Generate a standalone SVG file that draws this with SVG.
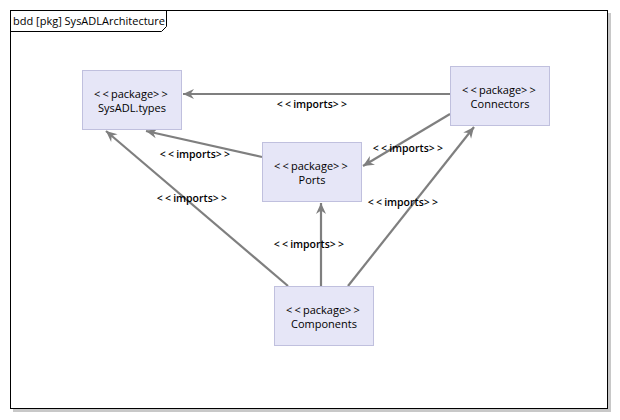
<svg xmlns="http://www.w3.org/2000/svg" width="620" height="420" viewBox="0 0 620 420">
  <style>
    .frame { fill: #ffffff; stroke: #000000; stroke-width: 1; }
    .shadow { fill: #c8c8c8; }
    .title { font-family: "Open Sans", "DejaVu Sans", sans-serif; font-size: 11px; fill: #000000; }
    .node rect { fill: #e6e6f7; stroke: #c0c0de; stroke-width: 1; }
    .node text { font-family: "Open Sans", "DejaVu Sans", sans-serif; font-size: 11px; fill: #000000; text-anchor: middle; }
    .edge { stroke: #7f7f7f; stroke-width: 2.2; fill: none; marker-end: url(#arrow); }
    .lbl { font-family: "Open Sans", "DejaVu Sans", sans-serif; font-size: 10.5px; font-weight: 600; fill: #000000; text-anchor: middle; }
    .br { letter-spacing: 2.2px; }
  </style>
  <defs>
    <marker id="arrow" markerUnits="userSpaceOnUse" markerWidth="14" markerHeight="12" viewBox="-11 -6 12 12" refX="0" refY="0" orient="auto">
      <path d="M0,0 L-11,-5 L-7.5,0 L-11,5 Z" fill="#7f7f7f"/>
    </marker>
  </defs>

  <rect width="620" height="420" fill="#ffffff"/>

  <!-- diagram frame with drop shadow -->
  <g id="frame">
    <rect class="shadow" x="13" y="13" width="598" height="399"/>
    <rect class="frame" x="10.5" y="10.5" width="597" height="398"/>
    <path d="M10.5,31.5 L161.5,31.5 L166.5,26.5 L166.5,10.5" fill="none" stroke="#000000" stroke-width="1"/>
    <text class="title" x="13" y="25">bdd [pkg] SysADLArchitecture</text>
  </g>

  <!-- import dependencies -->
  <g id="connectors">
    <line class="edge" x1="450" y1="94" x2="183" y2="94"/>
    <line class="edge" x1="262" y1="157" x2="146" y2="131"/>
    <line class="edge" x1="450" y1="114" x2="363" y2="166"/>
    <line class="edge" x1="288" y1="286" x2="106" y2="131"/>
    <line class="edge" x1="321" y1="286" x2="321" y2="203"/>
    <line class="edge" x1="348" y1="286" x2="474" y2="127"/>
    <text class="lbl" x="313" y="108"><tspan class="br">&lt;&lt;</tspan>imports<tspan class="br">&gt;&gt;</tspan></text>
    <text class="lbl" x="196" y="158"><tspan class="br">&lt;&lt;</tspan>imports<tspan class="br">&gt;&gt;</tspan></text>
    <text class="lbl" x="409" y="152"><tspan class="br">&lt;&lt;</tspan>imports<tspan class="br">&gt;&gt;</tspan></text>
    <text class="lbl" x="193" y="202"><tspan class="br">&lt;&lt;</tspan>imports<tspan class="br">&gt;&gt;</tspan></text>
    <text class="lbl" x="310" y="248"><tspan class="br">&lt;&lt;</tspan>imports<tspan class="br">&gt;&gt;</tspan></text>
    <text class="lbl" x="404" y="206"><tspan class="br">&lt;&lt;</tspan>imports<tspan class="br">&gt;&gt;</tspan></text>
  </g>

  <!-- packages -->
  <g id="types" class="node">
    <rect x="82.5" y="70.5" width="99" height="59"/>
    <text x="132" y="98"><tspan class="br">&lt;&lt;</tspan>package<tspan class="br">&gt;&gt;</tspan></text>
    <text x="132" y="112">SysADL.types</text>
  </g>
  <g id="connectors-pkg" class="node">
    <rect x="450.5" y="66.5" width="99" height="59"/>
    <text x="500" y="94"><tspan class="br">&lt;&lt;</tspan>package<tspan class="br">&gt;&gt;</tspan></text>
    <text x="500" y="108">Connectors</text>
  </g>
  <g id="ports" class="node">
    <rect x="262.5" y="142.5" width="99" height="59"/>
    <text x="312" y="170"><tspan class="br">&lt;&lt;</tspan>package<tspan class="br">&gt;&gt;</tspan></text>
    <text x="312" y="184">Ports</text>
  </g>
  <g id="components" class="node">
    <rect x="274.5" y="286.5" width="99" height="59"/>
    <text x="324" y="314"><tspan class="br">&lt;&lt;</tspan>package<tspan class="br">&gt;&gt;</tspan></text>
    <text x="324" y="328">Components</text>
  </g>
</svg>
